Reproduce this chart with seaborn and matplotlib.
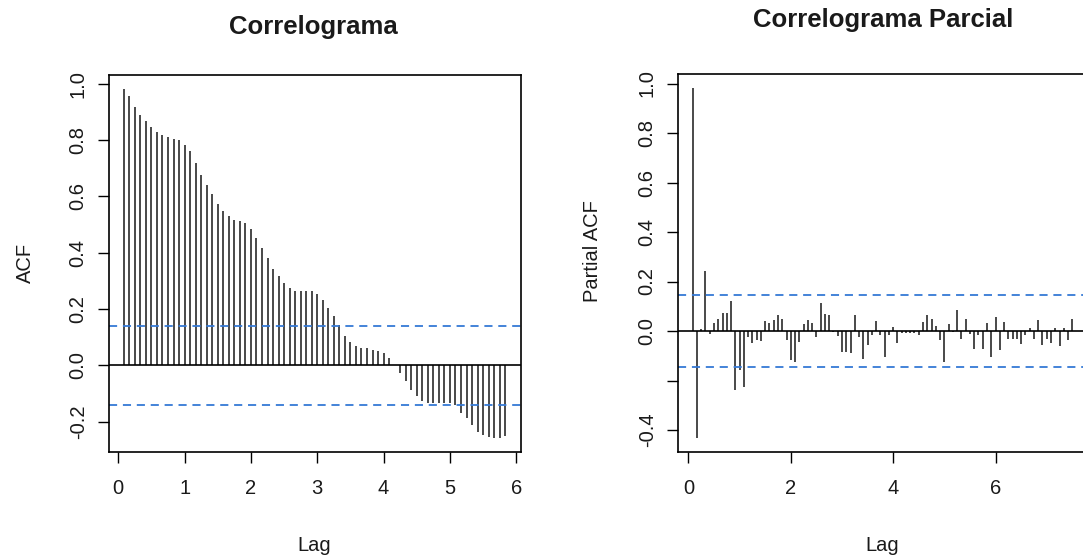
import numpy as np
import pandas as pd
import matplotlib
matplotlib.use("Agg")
import matplotlib.pyplot as plt
import seaborn as sns

# ---------------- data ----------------
freq = 12
acf_values = [
    0.982, 0.956, 0.919, 0.891, 0.867, 0.848, 0.828, 0.818, 0.810, 0.804,
    0.802, 0.783, 0.762, 0.719, 0.676, 0.640, 0.608, 0.575, 0.549, 0.531,
    0.517, 0.513, 0.505, 0.483, 0.454, 0.418, 0.382, 0.343, 0.317, 0.293,
    0.276, 0.264, 0.264, 0.264, 0.264, 0.252, 0.232, 0.204, 0.175, 0.145,
    0.103, 0.082, 0.070, 0.062, 0.062, 0.056, 0.052, 0.044, 0.026, 0.002,
    -0.027, -0.057, -0.087, -0.110, -0.128, -0.132, -0.132, -0.132, -0.132, -0.134,
    -0.140, -0.170, -0.188, -0.211, -0.235, -0.247, -0.253, -0.257, -0.257, -0.251,
]
pacf_values = [
    0.982, -0.431, 0.010, 0.244, -0.010, 0.034, 0.050, 0.073, 0.073, 0.122,
    -0.240, -0.159, -0.227, -0.024, -0.049, -0.038, -0.042, 0.040, 0.032, 0.046,
    0.063, 0.050, -0.035, -0.119, -0.126, -0.045, 0.030, 0.046, 0.032, -0.024,
    0.115, 0.070, 0.063, -0.005, -0.022, -0.085, -0.085, -0.089, 0.063, -0.024,
    -0.112, -0.058, -0.018, 0.040, -0.018, -0.103, -0.018, 0.016, -0.049, -0.008,
    -0.008, -0.008, -0.008, -0.018, 0.036, 0.063, 0.050, 0.019, -0.038, -0.126,
    0.027, -0.004, 0.084, -0.031, 0.047, -0.011, -0.072, -0.018, -0.072, 0.032,
    -0.103, 0.057, -0.078, 0.036, -0.031, -0.031, -0.031, -0.051, -0.016, 0.014,
    -0.031, 0.043, -0.058, -0.031, -0.049, 0.014, -0.062, 0.014, -0.035, 0.050,
]
acf_ci = 0.141
pacf_ci = 0.145

titles = ["Correlograma", "Correlograma Parcial"]
ylabels = ["ACF", "Partial ACF"]
xlabel = "Lag"
acf_xticks = [0, 1, 2, 3, 4, 5, 6]
pacf_xticks = [0, 2, 4, 6]
acf_yticks = [-0.2, 0.0, 0.2, 0.4, 0.6, 0.8, 1.0]
acf_yticklabels = ["-0.2", "0.0", "0.2", "0.4", "0.6", "0.8", "1.0"]
pacf_yticks = [-0.4, -0.2, 0.0, 0.2, 0.4, 0.6, 0.8, 1.0]
pacf_yticklabels = ["-0.4", "", "0.0", "0.2", "0.4", "0.6", "0.8", "1.0"]

# ---------------- style ----------------
sns.set_theme(style="white")
plt.rcParams["font.family"] = ["Liberation Sans", "DejaVu Sans"]

TXT = "#1a1a1a"
SPIKE = "#202020"
BLUE = "#3579d6"

fig = plt.figure(figsize=(10.83, 5.56), dpi=100)
W, H = 1083.0, 556.0


def make_panel(rect, values, ci, xticks, yticks, yticklabels, ylab, ylab_x, ylab_y):
    ax = fig.add_axes(rect)
    df = pd.DataFrame({"lag": np.arange(1, len(values) + 1) / freq, "value": values})
    ax.vlines(df["lag"], 0, df["value"], colors=SPIKE, linewidth=1.15)
    ax.margins(x=0.04, y=0.04)
    ax.axhline(0, color="black", linewidth=1.2)
    for c in (ci, -ci):
        ax.axhline(c, color=BLUE, linewidth=1.3, linestyle=(0, (4.5, 3.2)))
    ax.set_xticks(xticks)
    ax.set_xticklabels([str(t) for t in xticks])
    ax.set_yticks(yticks)
    ax.set_yticklabels(yticklabels)
    ax.tick_params(axis="both", which="major", bottom=True, left=True,
                   direction="out", length=8, width=1.0, color="black",
                   labelsize=14.5, labelcolor=TXT)
    ax.tick_params(axis="x", pad=12)
    ax.tick_params(axis="y", pad=7)
    for lbl in ax.get_yticklabels():
        lbl.set_rotation(90)
        lbl.set_va("center")
    for s in ax.spines.values():
        s.set_visible(True)
        s.set_color("black")
        s.set_linewidth(1.2)
    ax.set_facecolor("white")
    ax.grid(False)
    ax.set_xlabel(xlabel, fontsize=14.5, color=TXT, va="center")
    ax.xaxis.set_label_coords(0.5, -0.2477)
    ax.set_ylabel(ylab, fontsize=14.5, color=TXT, va="center")
    ax.yaxis.set_label_coords(ylab_x, ylab_y)
    return ax


ax1 = make_panel([108.5 / W, 1 - 451.7 / H, 412 / W, 376.7 / H],
                 acf_values, acf_ci, acf_xticks, acf_yticks, acf_yticklabels,
                 ylabels[0], -0.2027, 0.5)
ax2 = make_panel([677.5 / W, 1 - 451.7 / H, 410 / W, 377.7 / H],
                 pacf_values, pacf_ci, pacf_xticks, pacf_yticks, pacf_yticklabels,
                 ylabels[1], -0.2085, 0.53)

fig.text(313 / W, 1 - 27 / H, titles[0], ha="center", va="center",
         fontsize=18.5, fontweight="bold", color=TXT)
fig.text(883 / W, 1 - 20 / H, titles[1], ha="center", va="center",
         fontsize=18.5, fontweight="bold", color=TXT)

fig.savefig("out.png", dpi=100, facecolor="white")
